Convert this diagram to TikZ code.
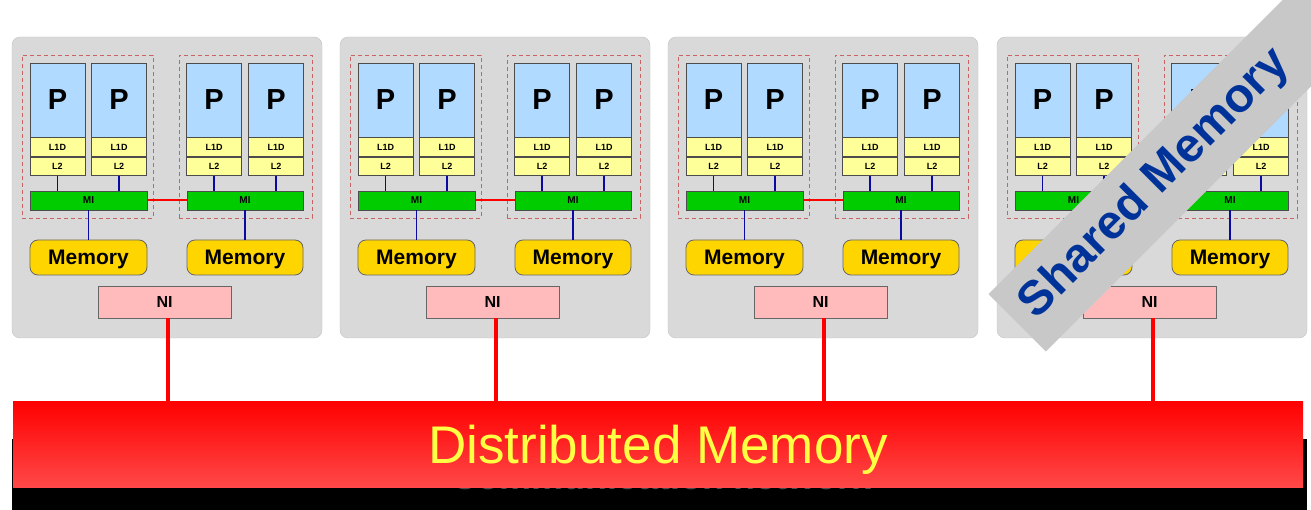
\documentclass[tikz,border=0pt]{standalone}
\usepackage{fontspec}
\setmainfont{Liberation Sans}
\usetikzlibrary{positioning}

\definecolor{boardgray}{HTML}{D9D9D9}
\definecolor{cpublue}{HTML}{B0DAFF}
\definecolor{cacheyellow}{HTML}{FFFF99}
\definecolor{migreen}{HTML}{00CC00}
\definecolor{memgold}{HTML}{FFD500}
\definecolor{nipink}{HTML}{FFBBBB}
\definecolor{dashred}{HTML}{C86464}
\definecolor{busblue}{HTML}{0A0AA0}
\definecolor{bannerlow}{HTML}{FF4848}
\definecolor{shmgray}{HTML}{C8C8C8}
\definecolor{shmblue}{HTML}{003399}
\definecolor{distyellow}{HTML}{FFFF44}

\tikzset{
  board/.style={fill=boardgray, draw=boardgray!90!black, rounded corners=8pt,
    minimum width=310pt, minimum height=301pt, inner sep=0pt},
  group/.style={draw=dashred, dashed, line width=0.8pt, dash pattern=on 4pt off 3pt,
    minimum height=163pt, inner sep=0pt},
  cpu/.style={fill=cpublue, draw=black!70, line width=0.8pt, minimum width=55pt,
    minimum height=74pt, inner sep=0pt, font=\fontsize{29}{29}\selectfont\bfseries},
  cache/.style={fill=cacheyellow, draw=black!70, line width=0.8pt, minimum width=55pt,
    minimum height=19pt, inner sep=0pt, font=\fontsize{9}{9}\selectfont\bfseries},
  mi/.style={fill=migreen, draw=black!70, line width=0.8pt, minimum width=117pt,
    minimum height=19pt, inner sep=0pt, font=\fontsize{10}{10}\selectfont\bfseries},
  mem/.style={fill=memgold, draw=black!60, line width=0.8pt, rounded corners=8pt,
    minimum width=117pt, minimum height=35pt, inner sep=0pt, text height=15pt,
    text depth=0pt, font=\fontsize{21}{21}\selectfont\bfseries},
  ni/.style={fill=nipink, draw=black!60, line width=0.8pt, minimum width=133pt,
    minimum height=32pt, inner sep=0pt, font=\fontsize{16}{16}\selectfont\bfseries},
  bus/.style={draw=busblue, line width=1.8pt},
  link/.style={draw=red, line width=2pt},
  netlink/.style={draw=red, line width=4pt},
}

\begin{document}
\begin{tikzpicture}[x=1pt, y=-1pt]
  \useasboundingbox (0,0) rectangle (1311,510);
  \clip (0,0) rectangle (1311,510);

  % the four nodes
  \foreach \n/\xo in {1/12, 2/340, 3/668, 4/997} {
    \begin{scope}[shift={(\xo,0)}]
      \node[board] (board\n) at (155,187.5) {};
      \node[group, minimum width=131pt] (grpl\n) at (75.5,136.5) {};
      \node[group, minimum width=133pt] (grpr\n) at (233.5,136.5) {};
      % cores
      \foreach \c/\cx in {a/45.5, b/107, c/202, d/264} {
        \node[cpu] (p\n\c) at (\cx,100) {P};
        \node[cache, below=0pt of p\n\c] (lo\n\c) {L1D};
        \node[cache, below=0pt of lo\n\c, minimum height=18pt] (lt\n\c) {L2};
      }
      \node[mi] (mil\n) at (76.5,200.5) {MI};
      \node[mi, minimum width=116pt] (mir\n) at (233,200.5) {MI};
      \node[mem] (meml\n) at (76.5,257.5) {Memory};
      \node[mem, minimum width=116pt] (memr\n) at (233,257.5) {Memory};
      \node[ni] (ni\n) at (152.5,302) {NI};
      % buses
      \draw[bus] (lt\n a) -- (lt\n a |- mil\n.north);
      \draw[bus] (lt\n b) -- (lt\n b |- mil\n.north);
      \draw[bus] (lt\n c) -- (lt\n c |- mir\n.north);
      \draw[bus] (lt\n d) -- (lt\n d |- mir\n.north);
      \draw[bus] (mil\n) -- (meml\n);
      \draw[bus] (mir\n) -- (memr\n);
      \draw[link] (mil\n) -- (mir\n);
    \end{scope}
  }

  % network
  \fill[black] (12,439) rectangle (1307,510);
  \node[text=black!70, font=\fontsize{36}{36}\selectfont\bfseries, anchor=base,
    inner sep=0pt] (hidden) at (662,489) {Communication network};
  \node[top color=red, bottom color=bannerlow, minimum width=1290pt,
    minimum height=86pt, inner sep=0pt, text=distyellow, text height=38pt,
    text depth=0pt, font=\fontsize{53}{53}\selectfont] (dist) at (658,444) {Distributed Memory};
  \foreach \n in {1,2,3,4} {
    \draw[netlink] ([xshift=3.5pt]ni\n.south) -- ([xshift=3.5pt]ni\n.south |- dist.north);
  }

  % shared memory sash
  \node[fill=shmgray, rotate=45, anchor=west, minimum width=480pt,
    minimum height=81pt, inner sep=0pt] (sash) at (1017,323) {};
  \node[rotate=45, text=shmblue, inner sep=0pt,
    font=\fontsize{48}{48}\selectfont\bfseries] (shm) at (1155,184) {Shared Memory};
\end{tikzpicture}
\end{document}
